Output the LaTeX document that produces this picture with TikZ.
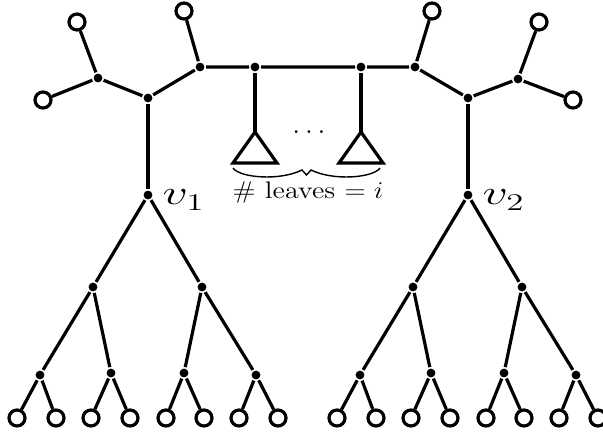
\documentclass[tikz,border=0pt]{standalone}
\usepackage{amsmath,amssymb}
\usepackage{tikz}
\usetikzlibrary{positioning,calc}

\begin{document}
\begin{tikzpicture}[x=0.5pt, y=-0.5pt, line width=1.6pt,
  every node/.style={font=\large},
  dot/.style={circle,fill,inner sep=0pt,minimum size=4.4pt},
  leaf/.style={circle,draw,fill=white,inner sep=0pt,minimum size=8pt},
  vlab/.style={font=\LARGE,inner sep=0pt,anchor=base west}]
  \useasboundingbox (0,0) rectangle (603,432);

  % spine between the two trees
  \node[dot] (p1) at (98,78) {};
  \node[dot] (p2) at (148,98) {};
  \node[dot] (p3) at (200,67) {};
  \node[dot] (p4) at (255,67) {};
  \node[dot] (p5) at (361,67) {};
  \node[dot] (p6) at (415,67) {};
  \node[dot] (p7) at (468,98) {};
  \node[dot] (p8) at (518,79) {};
  \node[leaf] (la1) at (77,22) {};
  \node[leaf] (la2) at (43,100) {};
  \node[leaf] (la3) at (184,11) {};
  \node[leaf] (ra1) at (432,11) {};
  \node[leaf] (ra2) at (539,22) {};
  \node[leaf] (ra3) at (573,100) {};
  \draw (la1) -- (p1) -- (la2);
  \draw (p1) -- (p2) -- (p3) -- (la3);
  \draw (p3) -- (p4) -- (p5) -- (p6) -- (ra1);
  \draw (p6) -- (p7) -- (p8) -- (ra2);
  \draw (p8) -- (ra3);

  % hanging subtrees
  \coordinate (t1) at (255,132);
  \coordinate (t2) at (361,132);
  \draw (p4) -- (t1);
  \draw (p5) -- (t2);
  \draw (t1) -- ++(-22,31) -- ++(44,0) -- cycle;
  \draw (t2) -- ++(-22,31) -- ++(44,0) -- cycle;
  \node[anchor=base,font=\Large] (dots) at (309,134) {$\ldots$};
  \draw[line width=0.7pt] (233,168) .. controls (240,178) and (280,181) .. (302,170)
    -- (306.5,175) -- (311,170) .. controls (333,181) and (373,178) .. (380,168);
  \node[anchor=base] (count) at (308,199) {\scalebox{1.18}[1]{\# leaves $= i$}};

  % the two binary trees
  \foreach \s/\ox in {1/0, 2/320} {
    \node[dot] (v\s) at (148+\ox,195) {};
    \node[vlab] (lab\s) at (161+\ox,205) {\scalebox{1.45}[1]{$v_{\s}$}};
    \node[dot] (c\s-1) at (93+\ox,287) {};
    \node[dot] (c\s-2) at (202+\ox,287) {};
    \node[dot] (g\s-1) at (40+\ox,375) {};
    \node[dot] (g\s-2) at (111+\ox,373) {};
    \node[dot] (g\s-3) at (184+\ox,373) {};
    \node[dot] (g\s-4) at (256+\ox,375) {};
    \foreach \lx [count=\k] in {17,56,91,130,166,204,239,278}
      \node[leaf] (l\s-\k) at (\lx+\ox,418) {};
    \draw (c\s-1) -- (v\s) -- (c\s-2);
    \draw (g\s-1) -- (c\s-1) -- (g\s-2);
    \draw (g\s-3) -- (c\s-2) -- (g\s-4);
    \foreach \k in {1,...,8} {
      \pgfmathtruncatemacro\g{(\k+1)/2}
      \draw (g\s-\g) -- (l\s-\k);
    }
  }
  \draw (p2) -- (v1);
  \draw (p7) -- (v2);
\end{tikzpicture}
\end{document}
